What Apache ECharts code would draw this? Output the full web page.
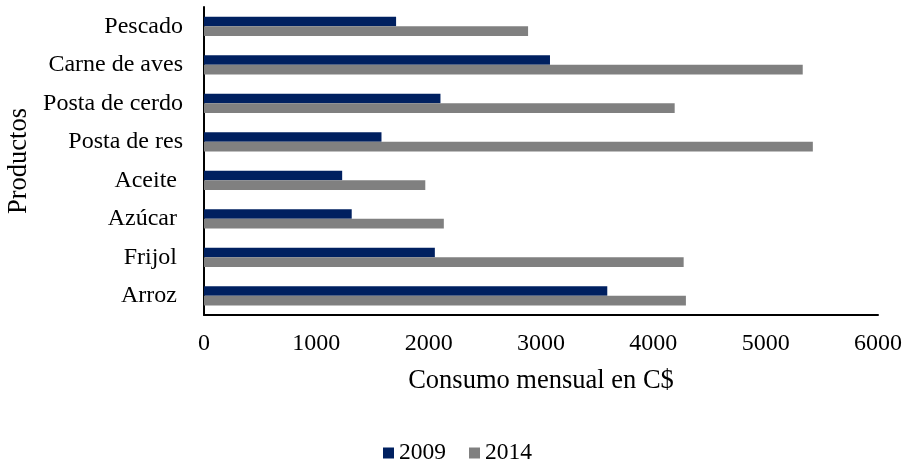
<!DOCTYPE html>
<html>
<head>
<meta charset="utf-8">
<script src="https://cdn.jsdelivr.net/npm/echarts@6/dist/echarts.min.js"></script>
<style>
  html, body { margin: 0; padding: 0; background: #ffffff; }
  #main { width: 906px; height: 464px; }
</style>
</head>
<body>
<div id="main"></div>
<script>
  // categories, bottom to top
  var productos = ['Arroz ', 'Frijol ', 'Azúcar ', 'Aceite ', 'Posta de res', 'Posta de cerdo', 'Carne de aves', 'Pescado'];
  var consumo2009 = [3590, 2055, 1315, 1230, 1580, 2105, 3080, 1710];
  var consumo2014 = [4290, 4270, 2135, 1970, 5420, 4190, 5330, 2885];
  var xTicks = [0, 1000, 2000, 3000, 4000, 5000, 6000];

  var fuente = 'Liberation Serif';
  var myChart = echarts.init(document.getElementById('main'));

  var option = {
    animation: false,
    textStyle: { fontFamily: fuente, color: '#000' },
    legend: {
      top: 436,
      left: 378,
      itemWidth: 11,
      itemHeight: 11,
      itemGap: 23,
      icon: 'rect',
      textStyle: { fontFamily: fuente, fontSize: 23.5, color: '#000' },
      data: ['2009', '2014']
    },
    grid: {
      left: 204,
      right: 28,
      top: 7,
      bottom: 149,
      outerBoundsMode: 'none'
    },
    xAxis: {
      type: 'value',
      min: xTicks[0],
      max: xTicks[xTicks.length - 1],
      interval: 1000,
      name: 'Consumo mensual en C$',
      nameLocation: 'middle',
      nameGap: 53,
      nameTextStyle: { fontFamily: fuente, fontSize: 26.5, color: '#000' },
      axisLine: { show: true, lineStyle: { color: '#000', width: 2 } },
      axisTick: { show: false },
      splitLine: { show: false },
      axisLabel: {
        fontFamily: fuente, fontSize: 24, color: '#000', margin: 17,
        formatter: function (v) { return String(v); }
      }
    },
    yAxis: {
      type: 'category',
      data: productos,
      name: 'Productos',
      nameLocation: 'middle',
      nameGap: 166,
      nameRotate: 90,
      nameTextStyle: { fontFamily: fuente, fontSize: 26.5, color: '#000' },
      axisLine: { show: true, lineStyle: { color: '#000', width: 2 } },
      axisTick: { show: false },
      axisLabel: { fontFamily: fuente, fontSize: 24, color: '#000', margin: 21 }
    },
    series: [
      {
        name: '2009',
        type: 'bar',
        data: consumo2009,
        barGap: '0%',
        barCategoryGap: '50%',
        itemStyle: { color: '#002060' }
      },
      {
        name: '2014',
        type: 'bar',
        data: consumo2014,
        barGap: '0%',
        barCategoryGap: '50%',
        itemStyle: { color: '#808080' }
      }
    ]
  };

  myChart.setOption(option);
</script>
</body>
</html>
